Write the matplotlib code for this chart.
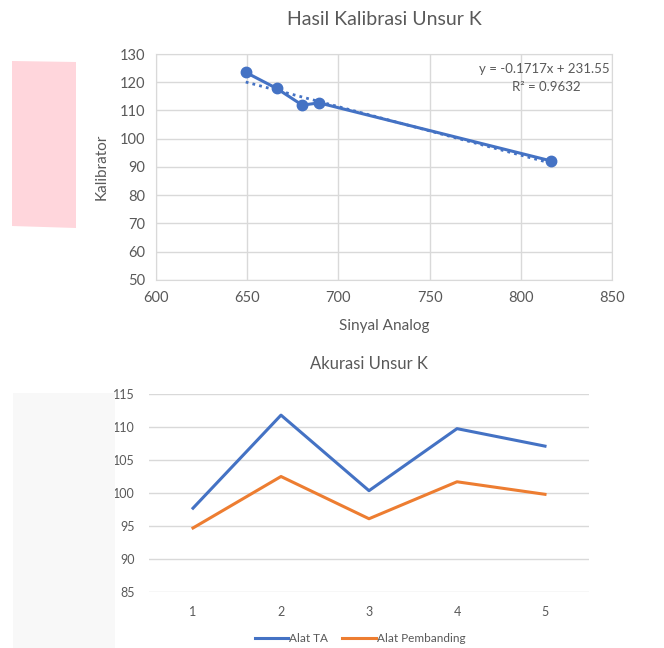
import matplotlib
matplotlib.use("Agg")
import matplotlib.pyplot as plt
from matplotlib.patches import Polygon, Rectangle
import numpy as np

plt.rcParams['font.family'] = ['Lato', 'DejaVu Sans']

# calibration data (top chart)
sinyal = [649.2, 666.2, 680.2, 689.4, 816.3]
kalibrator = [123.5, 117.8, 111.9, 112.7, 92.2]
slope, intercept = -0.1717, 231.55
r2 = 0.9632

# accuracy data (bottom chart)
ulangan = [1, 2, 3, 4, 5]
alat_ta = [97.7, 111.8, 100.35, 109.75, 107.1]
alat_pembanding = [94.7, 102.5, 96.1, 101.7, 99.8]

W, H = 664, 648
fig = plt.figure(figsize=(W / 100, H / 100), dpi=100)
txt = '#595959'
grid = '#D9D9D9'
blue = '#4472C4'
orange = '#ED7D31'

def fx(px):
    return px / W

def fy(py):
    return 1 - py / H

# decorative background blocks
fig.patches.append(Polygon([(fx(12), fy(61)), (fx(76), fy(62)), (fx(76), fy(228)), (fx(12), fy(226))],
                           closed=True, transform=fig.transFigure, facecolor='#FFD6DC', edgecolor='none'))
fig.patches.append(Rectangle((fx(13), fy(648)), fx(115) - fx(13), fy(393) - fy(648),
                             transform=fig.transFigure, facecolor='#F8F8F8', edgecolor='none'))

# ---- top chart
ax1 = fig.add_axes([fx(156), fy(280), fx(612) - fx(156), fy(54) - fy(280)])
ax1.set_xlim(600, 850)
ax1.set_ylim(50, 130)
ax1.set_xticks(np.arange(600, 851, 50))
ax1.set_yticks(np.arange(50, 131, 10))
ax1.grid(True, color=grid, linewidth=1)
ax1.set_axisbelow(True)
for s in ax1.spines.values():
    s.set_color(grid)
ax1.tick_params(length=0, labelsize=10.5, labelcolor=txt, pad=8)
ax1.plot(sinyal, kalibrator, color=blue, linewidth=2.2, marker='o', markersize=7.5, zorder=3)
xt = np.array([min(sinyal), max(sinyal)])
ax1.plot(xt, slope * xt + intercept, color=blue, linewidth=2, linestyle=(0, (1, 1.5)), zorder=2)
ax1.set_xlabel('Sinyal Analog', fontsize=11, color=txt, labelpad=10)
ax1.set_ylabel('Kalibrator', fontsize=11, color=txt, labelpad=8)
ax1.set_title('Hasil Kalibrasi Unsur K', fontsize=14, color=txt, pad=21)
ax1.text(0.995, 0.935, 'y = -0.1717x + 231.55', transform=ax1.transAxes, ha='right', va='center',
         fontsize=9.5, color=txt)
ax1.text(0.855, 0.855, 'R² = %.4f' % r2, transform=ax1.transAxes, ha='center', va='center',
         fontsize=9.5, color=txt)

# ---- bottom chart
ax2 = fig.add_axes([fx(149), fy(592), fx(589) - fx(149), fy(394) - fy(592)])
ax2.set_xlim(0.5, 5.5)
ax2.set_ylim(85, 115)
ax2.set_yticks(np.arange(85, 116, 5))
ax2.set_xticks(ulangan)
ax2.grid(True, axis='y', color=grid, linewidth=1)
ax2.set_axisbelow(True)
for s in ax2.spines.values():
    s.set_visible(False)
ax2.tick_params(length=0, labelsize=9, labelcolor=txt)
ax2.tick_params(axis='x', pad=10)
ax2.tick_params(axis='y', pad=10)
ax2.plot(ulangan, alat_ta, color=blue, linewidth=2.2, label='Alat TA')
ax2.plot(ulangan, alat_pembanding, color=orange, linewidth=2.2, label='Alat Pembanding')
ax2.set_title('Akurasi Unsur K', fontsize=12, color=txt, pad=18)
leg = ax2.legend(loc='upper center', bbox_to_anchor=(0.48, -0.155), ncol=2, frameon=False,
                 fontsize=8.5, handlelength=2.8, handletextpad=0.1, columnspacing=1.2)
for t in leg.get_texts():
    t.set_color(txt)

fig.savefig('out.png', dpi=100)
